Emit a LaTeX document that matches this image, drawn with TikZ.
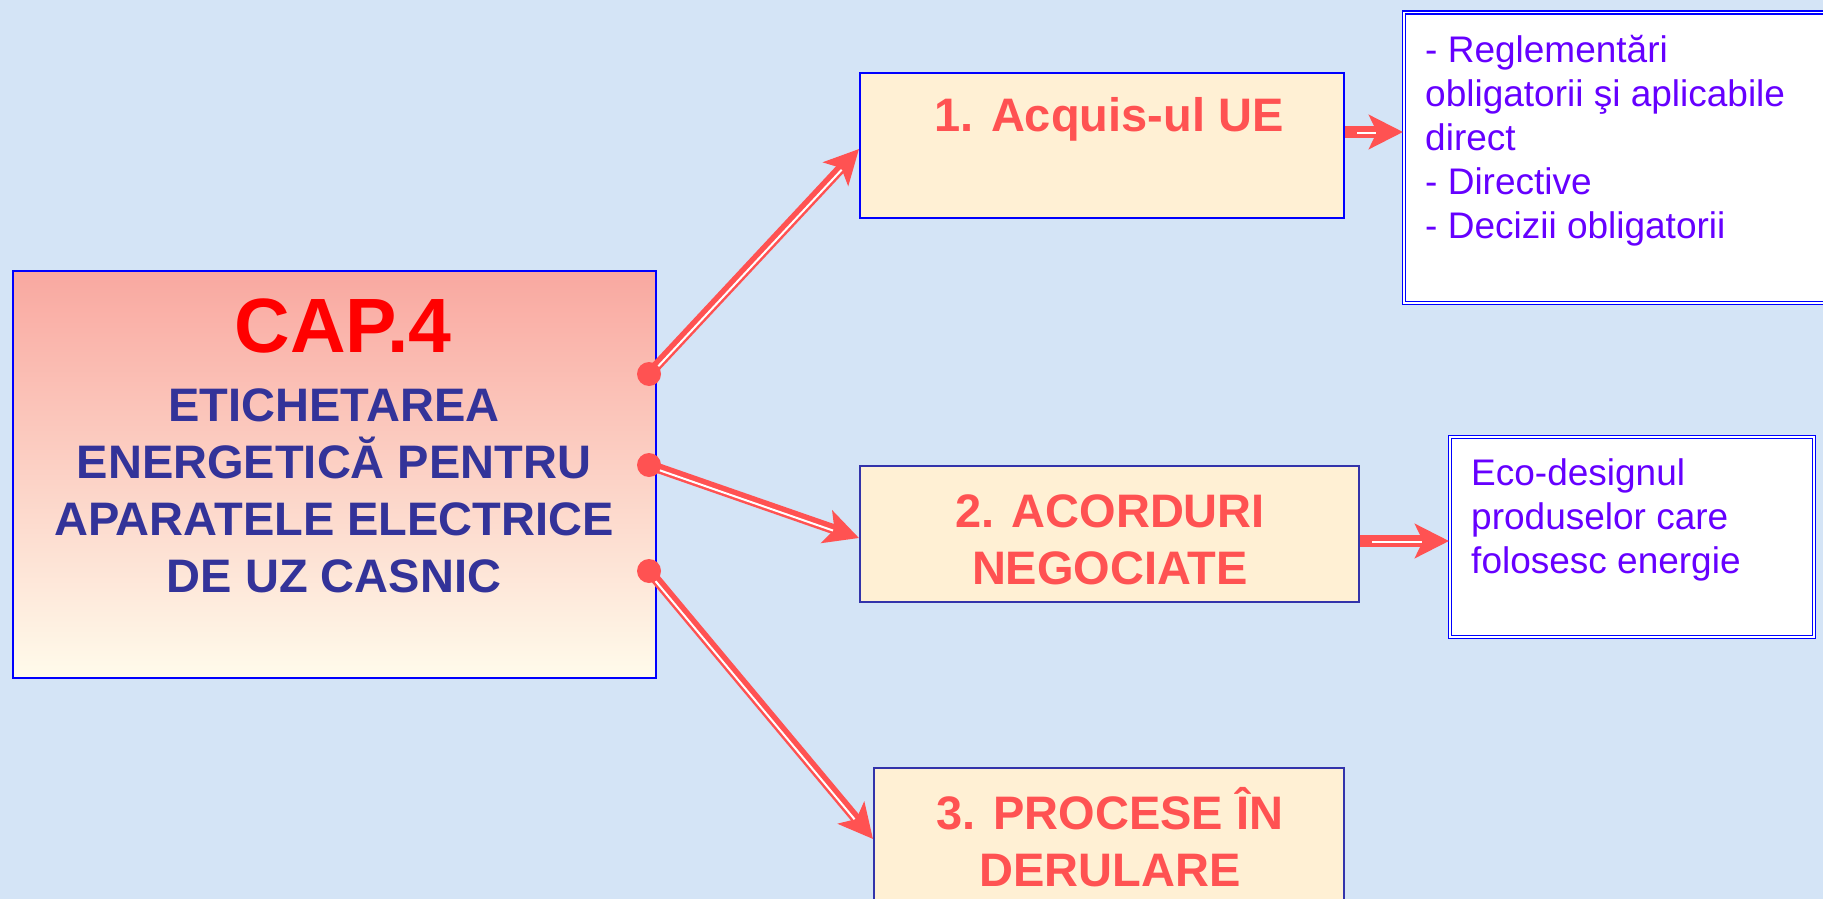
\documentclass[tikz,border=0pt]{standalone}
\usepackage{fontspec}
\setmainfont{Liberation Sans}
\usetikzlibrary{arrows.meta}
\definecolor{bg}{RGB}{212,228,246}
\definecolor{arrowred}{RGB}{255,82,82}
\definecolor{titlered}{RGB}{255,0,0}
\definecolor{navy}{RGB}{51,51,153}
\definecolor{boxblue}{RGB}{0,0,255}
\definecolor{framenavy}{RGB}{51,51,170}
\definecolor{cream}{RGB}{255,240,212}
\definecolor{purpletext}{RGB}{102,0,255}
\definecolor{pinktop}{RGB}{249,168,160}
\definecolor{creambottom}{RGB}{255,251,235}
\tikzset{
  mainbox/.style={draw=boxblue, line width=2pt, top color=pinktop, bottom color=creambottom, anchor=north west, inner sep=0pt},
  topicbox/.style={draw=#1, line width=2pt, fill=cream, anchor=north west, inner sep=0pt},
  notebox/.style={draw=boxblue, line width=1.6pt, double=white, double distance=1.4pt, fill=white, anchor=north west, inner sep=0pt},
  dot/.style={circle, fill=arrowred, minimum size=24pt, inner sep=0pt},
  dblarrow/.style 2 args={draw=arrowred, line width=#1, -{Stealth[length=34pt,width=34pt,inset=8pt]},
     postaction={draw=white, line width=2pt, -, shorten >=27pt, shorten <=12pt, transform canvas={shift={#2}}}},
  titletext/.style={text=titlered, font=\fontsize{77}{82}\selectfont\bfseries, inner sep=0pt},
  maintext/.style={text=navy, font=\fontsize{47}{57}\selectfont\bfseries, align=center, inner sep=0pt},
  topictext/.style={text=arrowred, font=\fontsize{47}{57}\selectfont\bfseries, align=center, inner sep=0pt},
  notetext/.style={text=purpletext, font=\fontsize{37}{44}\selectfont, align=left, inner sep=0pt}
}
\begin{document}
\begin{tikzpicture}[x=1pt,y=-1pt]
\useasboundingbox (0,0) rectangle (1823,899);
\clip (0,0) rectangle (1823,899);
\fill[bg] (0,0) rectangle (1823,899);

% boxes
\node[mainbox, minimum width=643pt, minimum height=407pt] (main) at (11.6,269.7) {};
\node[topicbox=boxblue, minimum width=484pt, minimum height=145pt] (box1) at (859,72) {};
\node[topicbox=framenavy, minimum width=499pt, minimum height=136pt] (box2) at (859,465) {};
\node[topicbox=framenavy, minimum width=470pt, minimum height=153pt] (box3) at (873,767) {};
\node[notebox, minimum width=437pt, minimum height=290pt] (noteA) at (1403,12) {};
\node[notebox, minimum width=364pt, minimum height=200pt] (noteB) at (1449,436) {};

% texts (base anchor = baseline of last line)
\node[titletext, anchor=base] (cap) at (343,352) {CAP.4};
\node[maintext, anchor=base] (title) at (334,592) {ETICHETAREA\\ENERGETICĂ PENTRU\\APARATELE ELECTRICE\\DE UZ CASNIC};
\node[topictext, anchor=base] (t1) at (1109,131) {1. Acquis-ul UE};
\node[topictext, anchor=base] (t2) at (1110,584) {2. ACORDURI\\NEGOCIATE};
\node[topictext, anchor=base] (t3) at (1110,886) {3. PROCESE ÎN\\DERULARE};
\node[notetext, anchor=base west] (nA) at (1425,238) {- Reglementări\\obligatorii şi aplicabile\\direct\\- Directive\\- Decizii obligatorii};
\node[notetext, anchor=base west] (nB) at (1471,573) {Eco-designul\\produselor care\\folosesc energie};

% dots
\node[dot] (d1) at (649,374) {};
\node[dot] (d2) at (649,465) {};
\node[dot] (d3) at (649,571) {};

% connectors
\draw[dblarrow={10pt}{(1.1,1.0)}] (d1.center) -- (box1.west |- 0,149);
\draw[dblarrow={10pt}{(-0.5,1.4)}] (d2.center) -- (box2.west |- 0,538);
\draw[dblarrow={10pt}{(-1.15,0.96)}] (d3.center) -- (box3.west |- 0,839);
\draw[dblarrow={12pt}{(0,1.2)}] (box1.east |- 0,132) -- (noteA.west |- 0,132);
\draw[dblarrow={12pt}{(0,1.2)}] (box2.east |- 0,541) -- (noteB.west |- 0,541);
\end{tikzpicture}
\end{document}
